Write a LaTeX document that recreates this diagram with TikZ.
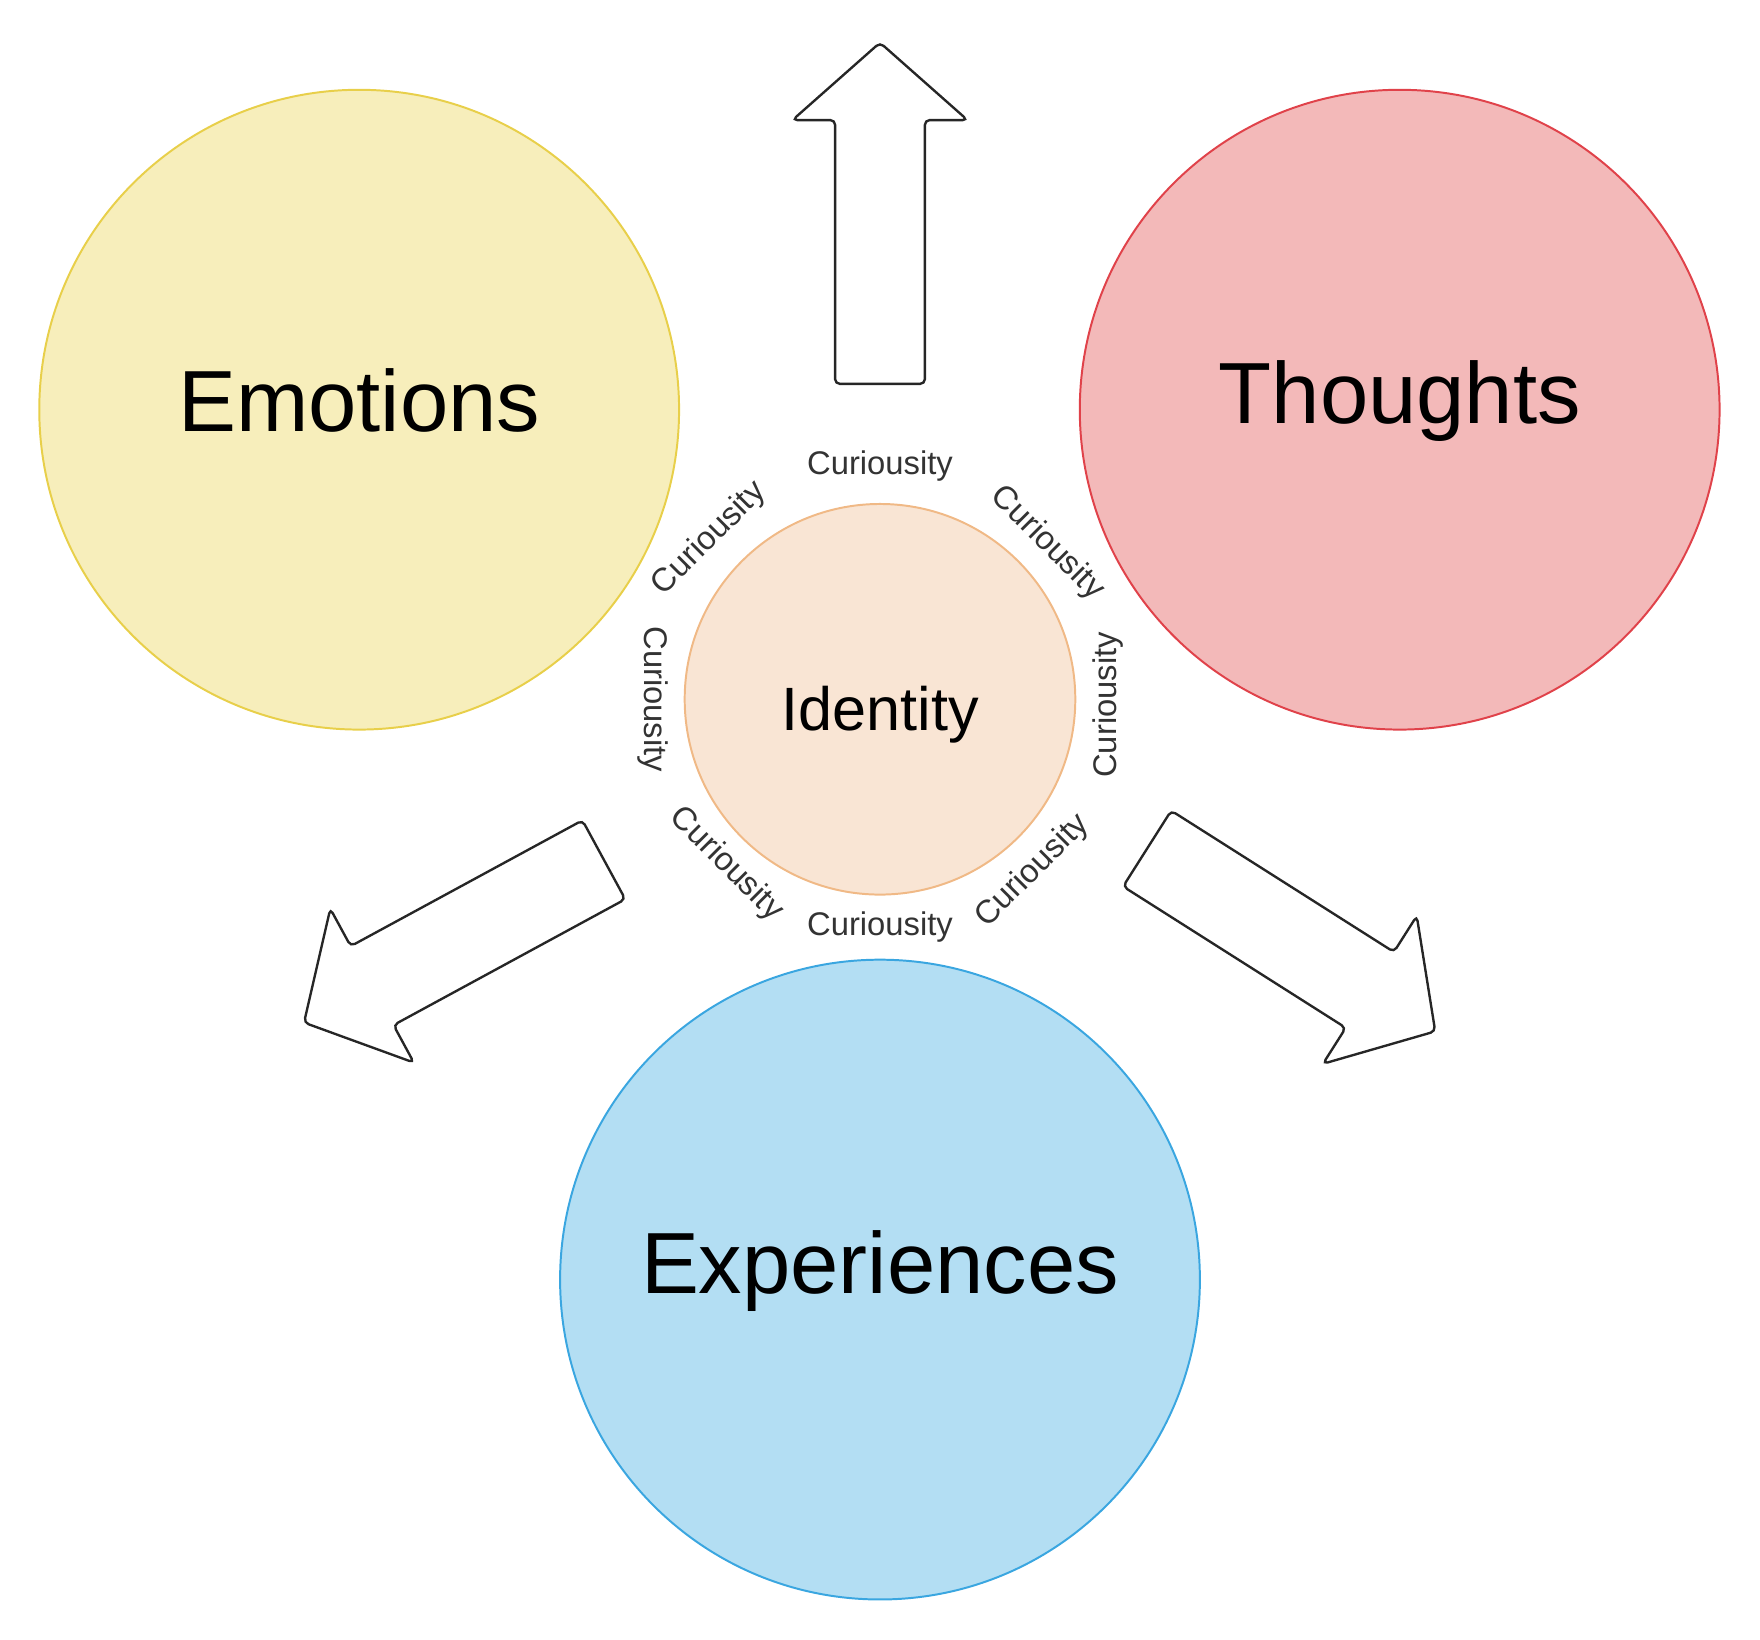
\documentclass[tikz,border=0pt]{standalone}
\usepackage{fontspec}
\setmainfont{Liberation Sans}
\begin{document}
\begin{tikzpicture}[x=0.01cm,y=-0.01cm,
  circ/.style={circle,minimum size=570*0.01cm,inner sep=0,line width=0.5pt},
  big/.style={font=\fontsize{22}{26}\selectfont},
  cur/.style={font=\fontsize{8.3}{10}\selectfont,text=black!80,inner sep=0},
  arr/.style={draw=black!85,line width=0.6pt,fill=white,rounded corners=1.2pt}]
\useasboundingbox (0,0) rectangle (1568,1461);
\definecolor{emof}{HTML}{F7EEBB}\definecolor{emod}{HTML}{E8CF4A}
\definecolor{thof}{HTML}{F3B9B9}\definecolor{thod}{HTML}{E0424A}
\definecolor{expf}{HTML}{B3DEF3}\definecolor{expd}{HTML}{3AA6E0}
\definecolor{idf}{HTML}{F9E5D4}\definecolor{idd}{HTML}{F0B986}
\node[circ,fill=emof,draw=emod] (emo) at (320,365) {};
\node[big] at (320,357) {Emotions};
\node[circ,fill=thof,draw=thod] (tho) at (1247,365) {};
\node[big] at (1247,357) {Thoughts};
\node[circ,fill=expf,draw=expd] (exp) at (784,1140) {};
\node[big] at (784,1132) {Experiences};
\node[circle,minimum size=348*0.01cm,inner sep=0,fill=idf,draw=idd,line width=0.5pt] (id) at (784,623) {};
\node[font=\fontsize{15.5}{18}\selectfont] at (784,637) {Identity};
\foreach \p/\r [count=\i] in {{(784,415)}/0,{(933,484)}/-45,{(987,628)}/90,{(920,776)}/45,{(784,826)}/0,{(647,770)}/-45,{(582,623)}/-90,{(632,480)}/45}
  \node[cur,rotate=\r] (c\i) at \p {Curiousity};
\foreach \t/\a/\n in {{(784,342)}/90/up,{(538,766)}/208.5/ll,{(1022,756)}/-32.4/lr}
  \draw[arr,shift={\t},rotate=\a] (0,-40) -- (235,-40) -- (235,-78) -- (304,0) -- (235,78) -- (235,40) -- (0,40) -- cycle;
\end{tikzpicture}
\end{document}
